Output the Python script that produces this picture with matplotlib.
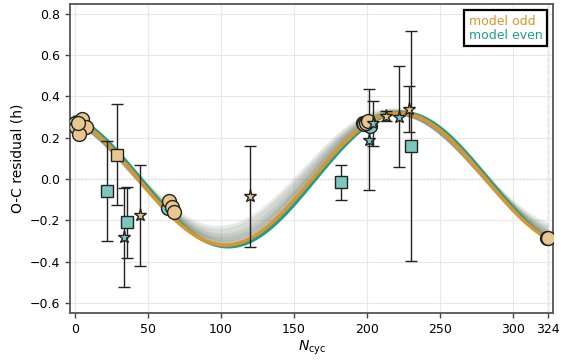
import numpy as np
import matplotlib
matplotlib.use("Agg")
import matplotlib.pyplot as plt

# colours
TAN = "#EAC68F"
TEAL = "#7DC7BD"
ODD = "#D9952E"
EVEN = "#1F9E90"

# transit timing points: cycle number, O-C (h), error (h)
circ_odd_n = [1, 5, 7.5, 3, 2, 64.5, 66.5, 68, 198, 199.5, 201, 324]
circ_odd_y = [0.25, 0.29, 0.25, 0.22, 0.27, -0.105, -0.135, -0.16, 0.265, 0.27, 0.28, -0.285]
circ_even_n = [0, 64, 197.5, 202, 323]
circ_even_y = [0.27, -0.14, 0.27, 0.255, -0.285]

sq_odd_n = [28.7]
sq_odd_y = [0.118]
sq_odd_e = [0.245]
sq_even_n = [21.9, 35.5, 182.2, 230]
sq_even_y = [-0.058, -0.21, -0.016, 0.16]
sq_even_e = [0.242, 0.172, 0.084, 0.557]

star_odd_n = [44.6, 120.2, 213.1, 229]
star_odd_y = [-0.175, -0.084, 0.307, 0.339]
star_odd_e = [0.244, 0.245, 0.024, 0.111]
star_even_n = [33.5, 201.7, 204.2, 222]
star_even_y = [-0.283, 0.19, 0.27, 0.302]
star_even_e = [0.241, 0.244, 0.11, 0.246]

# sinusoidal model: amplitude, period, epoch of maximum, offset
model_odd = (0.32, 238.0, 222.0, 0.0)
model_even = (0.325, 238.0, 224.0, -0.003)
samples = [(0.31, 238.0, 221.0, 0.008), (0.305, 238.0, 220.5, 0.014), (0.30, 238.0, 220.0, 0.02),
           (0.312, 238.0, 221.5, 0.006), (0.295, 238.0, 219.0, 0.028), (0.29, 238.0, 218.0, 0.036),
           (0.285, 238.0, 217.5, 0.045), (0.30, 238.0, 219.5, 0.022), (0.315, 238.0, 222.5, 0.004),
           (0.308, 238.0, 221.0, 0.012)]


def sine(n, p):
    amp, per, t0, off = p
    return amp * np.cos(2 * np.pi * (n - t0) / per) + off


n = np.linspace(0, 324, 600)

fig = plt.figure(figsize=(5.61, 3.6), dpi=100)
ax = fig.add_axes([0.125, 0.13, 0.861, 0.859])

ax.grid(color="#e8e8e8", lw=0.8, zorder=0)
ax.axhline(0, color="#aaaaaa", ls=":", lw=1.0, zorder=1)
ax.axvline(324, color="#888888", ls="--", lw=0.9, zorder=1)

for p in samples:
    ax.plot(n, sine(n, p), color="#7b8878", lw=4, alpha=0.16, zorder=2, solid_capstyle="butt")
ax.plot(n, sine(n, model_even), color=EVEN, lw=2.6, zorder=3)
ax.plot(n, sine(n, model_odd), color=ODD, lw=2.6, zorder=4)

eb = dict(fmt="none", ecolor="#222222", elinewidth=1.0, capsize=4, capthick=1.0, zorder=5)
ax.errorbar(sq_even_n, sq_even_y, yerr=sq_even_e, **eb)
ax.errorbar(sq_odd_n, sq_odd_y, yerr=sq_odd_e, **eb)
ax.errorbar(star_even_n, star_even_y, yerr=star_even_e, **eb)
ax.errorbar(star_odd_n, star_odd_y, yerr=star_odd_e, **eb)

mk = dict(ls="none", mec="#222222", mew=1.0, zorder=6)
ax.plot(circ_even_n, circ_even_y, "o", ms=10, mfc=TEAL, **mk)
ax.plot(circ_odd_n, circ_odd_y, "o", ms=10, mfc=TAN, **mk)
ax.plot(sq_even_n, sq_even_y, "s", ms=9, mfc=TEAL, **mk)
ax.plot(sq_odd_n, sq_odd_y, "s", ms=9, mfc=TAN, **mk)
ax.plot(star_even_n, star_even_y, "*", ms=9.5, mfc=TEAL, **mk)
ax.plot(star_odd_n, star_odd_y, "*", ms=9.5, mfc=TAN, **mk)

ax.set_xlim(-3.24, 327.5)
ax.set_ylim(-0.65, 0.848)
ax.set_xticks([0, 50, 100, 150, 200, 250, 300, 324])
ax.set_yticks([-0.6, -0.4, -0.2, 0.0, 0.2, 0.4, 0.6, 0.8])
ax.tick_params(labelsize=9, color="#444444", length=3.5, width=1.0)
for s in ax.spines.values():
    s.set_color("#555555")
    s.set_linewidth(1.3)

ax.set_xlabel(r"$N_{\rm cyc}$", fontsize=10, labelpad=2)
ax.set_ylabel("O-C residual (h)", fontsize=10)

h1, = ax.plot([], [], color=ODD)
h2, = ax.plot([], [], color=EVEN)
leg = ax.legend([h1, h2], ["model odd", "model even"], loc="upper right", fontsize=9,
                handlelength=0, handletextpad=0, fancybox=False, framealpha=1,
                borderpad=0.35, labelspacing=0.1, borderaxespad=0.5)
leg.get_frame().set_edgecolor("black")
leg.get_frame().set_linewidth(1.6)
for t, c in zip(leg.get_texts(), [ODD, EVEN]):
    t.set_color(c)
for h in leg.legend_handles:
    h.set_visible(False)

fig.savefig("out.png", dpi=100)
